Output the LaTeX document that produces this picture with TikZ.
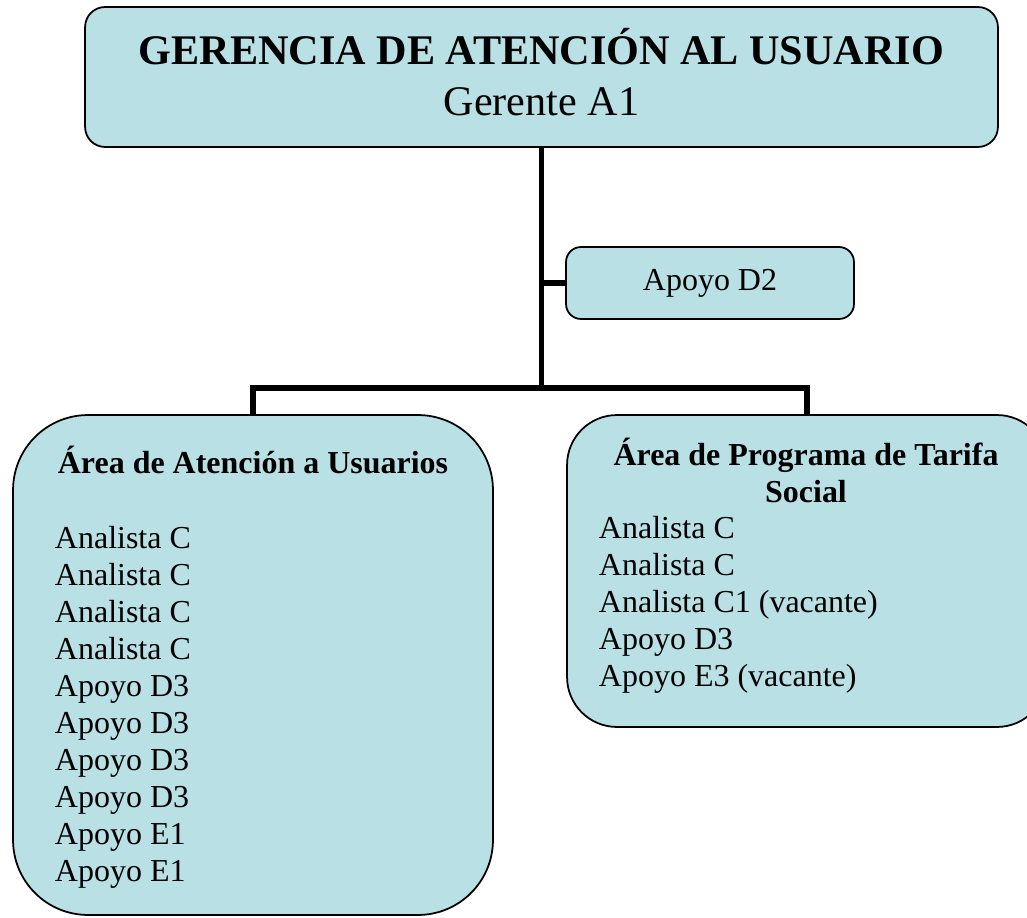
\documentclass[tikz,border=0pt]{standalone}
\usepackage{fontspec}
\setmainfont{Liberation Serif}
\usetikzlibrary{calc}
\definecolor{box1}{RGB}{185, 224, 228}

\begin{document}
\begin{tikzpicture}[x=0.02cm, y=0.02cm, line width=3.4pt]
  \tikzset{
    unit/.style={draw=black, line width=1pt, fill=box1, inner sep=0pt},
    item/.style={anchor=base west, inner sep=0pt, font=\fontsize{18.2}{21}\selectfont},
    head/.style={anchor=base, inner sep=0pt, font=\fontsize{18.2}{21}\selectfont\bfseries}
  }
  \useasboundingbox (0,0) rectangle (1027,917);
  % boxes
  \node[unit, rounded corners=0.4cm, minimum width=18.26cm, minimum height=2.8cm] (gerencia) at (541.5,840) {};
  \node[anchor=base, inner sep=0pt, font=\fontsize{24}{29}\selectfont\bfseries] (gerencia-t) at (541.5,852) {GERENCIA DE ATENCIÓN AL USUARIO};
  \node[anchor=base, inner sep=0pt, font=\fontsize{24}{29}\selectfont] (gerencia-n) at (541.5,801) {Gerente A1};
  \node[unit, rounded corners=0.3cm, minimum width=5.76cm, minimum height=1.44cm, font=\fontsize{18.2}{21}\selectfont] (apoyo) at (710,634) {Apoyo D2};
  \node[unit, rounded corners=1.5cm, minimum width=9.6cm, minimum height=10cm] (usuarios) at (253,252) {};
  \node[unit, rounded corners=1cm, minimum width=9.6cm, minimum height=6.24cm] (tarifa) at (807,346) {};
  % texts
  \node[head] (usuarios-t) at (253,444) {Área de Atención a Usuarios};
  \foreach \txt [count=\i from 0] in {Analista C, Analista C, Analista C, Analista C, Apoyo D3, Apoyo D3, Apoyo D3, Apoyo D3, Apoyo E1, Apoyo E1}
    \node[item] (usuarios-\i) at (52,{369-37*\i}) {\txt};
  \node[head] (tarifa-t1) at (806,452) {Área de Programa de Tarifa};
  \node[head] (tarifa-t2) at (806,415) {Social};
  \foreach \txt [count=\i from 0] in {Analista C, Analista C, Analista C1 (vacante), Apoyo D3, Apoyo E3 (vacante)}
    \node[item] (tarifa-\i) at (596,{379-37*\i}) {\txt};
  % connectors
  \coordinate (bar) at (541.5,529);
  \draw (gerencia.south) -- (bar);
  \draw (apoyo.west) -- (apoyo.west -| gerencia.south);
  \draw (usuarios.north) |- (bar) -| (tarifa.north);
\end{tikzpicture}
\end{document}
